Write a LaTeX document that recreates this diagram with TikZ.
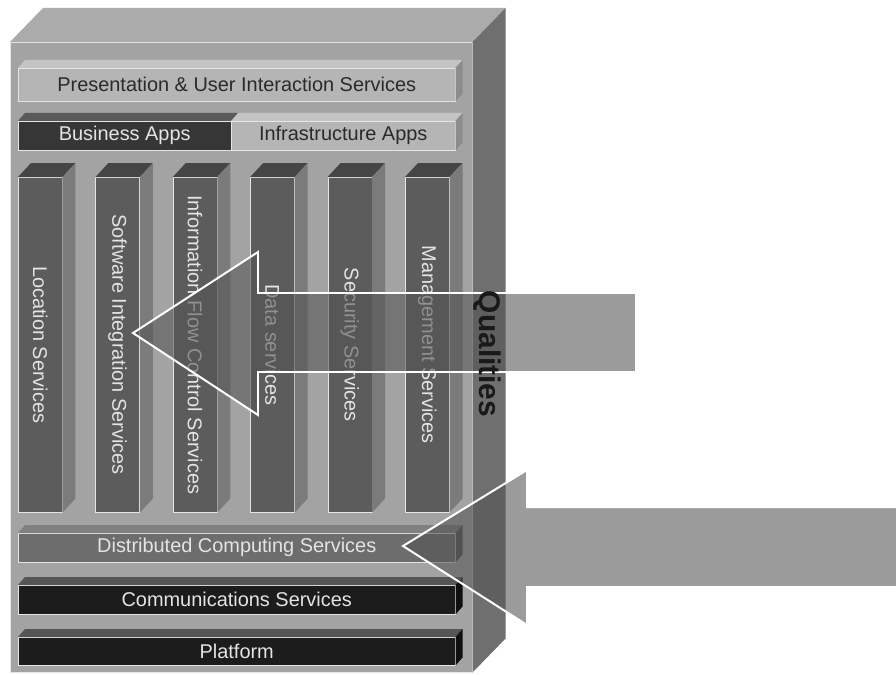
\documentclass[tikz,border=0pt]{standalone}
\usepackage{fontspec}
\setmainfont{Liberation Sans}
\usetikzlibrary{positioning}

\definecolor{boxfront}{HTML}{A3A3A3}
\definecolor{boxtop}{HTML}{ABABAB}
\definecolor{boxside}{HTML}{6F6F6F}
\definecolor{lightfront}{HTML}{B5B5B5}
\definecolor{lighttop}{HTML}{C4C4C4}
\definecolor{lightside}{HTML}{8C8C8C}
\definecolor{bizfront}{HTML}{363636}
\definecolor{biztop}{HTML}{5A5A5A}
\definecolor{colfront}{HTML}{5C5C5C}
\definecolor{coltop}{HTML}{454545}
\definecolor{colside}{HTML}{7B7B7B}
\definecolor{distfront}{HTML}{6D6D6D}
\definecolor{disttop}{HTML}{808080}
\definecolor{distside}{HTML}{4F4F4F}
\definecolor{basefront}{HTML}{1C1C1C}
\definecolor{basetop}{HTML}{555555}
\definecolor{baseside}{HTML}{101010}
\definecolor{darklabel}{HTML}{2A2A2A}
\definecolor{lightlabel}{HTML}{E4E4E4}

% top and right faces of a slab node
\newcommand{\slabsides}[5]{%
	\fill[#2] (#1.north west) -- ++(#4,-#5) -- ([shift={(#4,-#5)}]#1.north east) -- (#1.north east) -- cycle ;
	\fill[#3] (#1.north east) -- ++(#4,-#5) -- ([shift={(#4,-#5)}]#1.south east) -- (#1.south east) -- cycle ;
}

\begin{document}
\begin{tikzpicture}[x=1bp, y=-1bp,
	slab/.style={inner sep=0, anchor=north west, draw=white!80!gray, line width=.5pt,
		font=\fontsize{20}{22}\selectfont},
	coltext/.style={inner sep=0, rotate=-90, text=lightlabel, font=\fontsize{20}{22}\selectfont},
	qarrow/.style={fill=black!67, fill opacity=.58, draw=white, line width=2pt, line join=miter}]
	\fill[white] (0,0) rectangle (896,675) ;
	\useasboundingbox (0,0) rectangle (896,675) ;

	% the outer box
	\node (frame)[slab, fill=boxfront, minimum width=462bp, minimum height=630bp] at (10,42) {} ;
	\slabsides{frame}{boxtop}{boxside}{33}{34}

	\node (pres)[slab, fill=lightfront, text=darklabel, minimum width=437bp, minimum height=33bp] at (18,68) {Presentation \& User Interaction Services} ;
	\slabsides{pres}{lighttop}{lightside}{7}{8}

	\node (biz)[slab, fill=bizfront, text=lightlabel, minimum width=213bp, minimum height=29bp] at (18,121) {Business Apps} ;
	\slabsides{biz}{biztop}{bizfront}{7}{8}
	\node (infra)[slab, fill=lightfront, text=darklabel, minimum width=224bp, minimum height=29bp] at (231,121) {Infrastructure Apps} ;
	\slabsides{infra}{lighttop}{lightside}{7}{8}

	\foreach \i/\name in {0/Location Services, 1/Software Integration Services,
		2/Information Flow Control Services, 3/Data services,
		4/Security Services, 5/Management Services} {
		\node (col\i)[slab, fill=colfront, minimum width=44bp, minimum height=335bp] at (18+77.4*\i,177) {} ;
		\slabsides{col\i}{coltop}{colside}{13}{14}
		\node (lab\i)[coltext] at (col\i.center) {\name} ;
	}

	\node (dist)[slab, fill=distfront, text=lightlabel, minimum width=437bp, minimum height=29bp] at (18,533) {Distributed Computing Services} ;
	\slabsides{dist}{disttop}{distside}{7}{8}
	\node (comm)[slab, fill=basefront, text=lightlabel, minimum width=437bp, minimum height=29bp] at (18,585) {Communications Services} ;
	\slabsides{comm}{basetop}{baseside}{7}{8}
	\node (plat)[slab, fill=basefront, text=lightlabel, minimum width=437bp, minimum height=28bp] at (18,637) {Platform} ;
	\slabsides{plat}{basetop}{baseside}{7}{8}

	% the two arrows
	\draw[qarrow] (636,293) -- (258,293) -- (258,252) -- (133,333) -- (258,415) -- (258,372) -- (636,372) -- cycle ;
	\draw[qarrow] (900,507) -- (527,507) -- (527,470) -- (403,546) -- (527,625) -- (527,587) -- (900,587) ;

	\node (qual)[rotate=-90, inner sep=0, text=black!90, font=\bfseries\fontsize{30}{32}\selectfont] at (487,354) {Qualities} ;
\end{tikzpicture}
\end{document}
